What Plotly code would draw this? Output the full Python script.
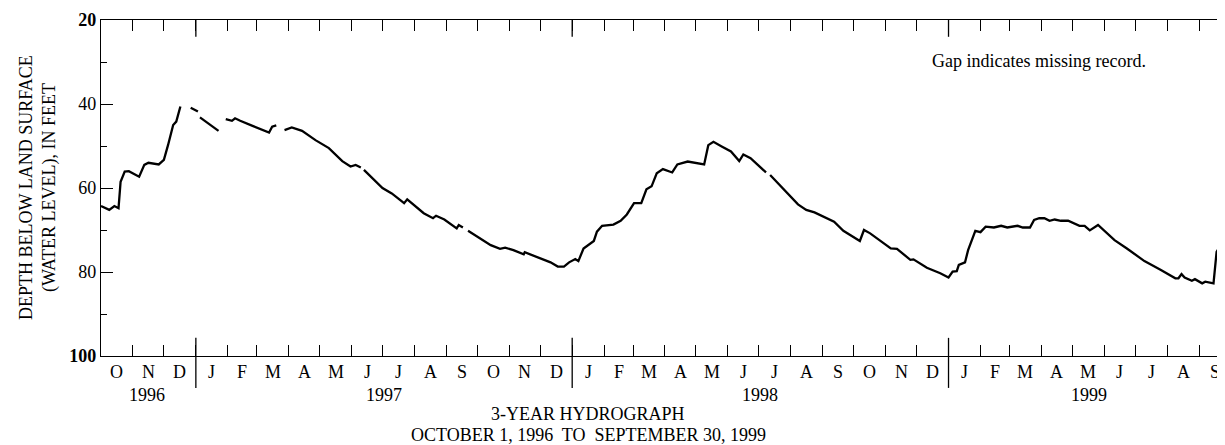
import plotly.graph_objects as go
import pandas as pd

dates = [
    "1996-10-01", "1996-10-09", "1996-10-14", "1996-10-18", "1996-10-20", "1996-10-24",
    "1996-10-28", "1996-11-07", "1996-11-12", "1996-11-16", "1996-11-26", "1996-12-01",
    "1996-12-05", "1996-12-10", "1996-12-13", "1996-12-17",
    "1996-12-22",
    "1996-12-27", "1996-12-31", "1997-01-03",
    "1997-01-04",
    "1997-01-05", "1997-01-11", "1997-01-17", "1997-01-23",
    "1997-01-27",
    "1997-01-30", "1997-02-05", "1997-02-08", "1997-02-13", "1997-02-25", "1997-03-08",
    "1997-03-13", "1997-03-16", "1997-03-20",
    "1997-03-24",
    "1997-03-28", "1997-04-04", "1997-04-14", "1997-04-27", "1997-05-10", "1997-05-23",
    "1997-05-31", "1997-06-05", "1997-06-10",
    "1997-06-12",
    "1997-06-13", "1997-07-01", "1997-07-10", "1997-07-22", "1997-07-25", "1997-08-10",
    "1997-08-19", "1997-08-22", "1997-08-30", "1997-09-11", "1997-09-13", "1997-09-17",
    "1997-09-20",
    "1997-09-22", "1997-10-14", "1997-10-23", "1997-10-28", "1997-11-05", "1997-11-15",
    "1997-11-16", "1997-12-01", "1997-12-11", "1997-12-18", "1997-12-24", "1997-12-29",
    "1998-01-04", "1998-01-07", "1998-01-12", "1998-01-22", "1998-01-25", "1998-01-30",
    "1998-02-10", "1998-02-17", "1998-02-23", "1998-03-02", "1998-03-09", "1998-03-14",
    "1998-03-19", "1998-03-24", "1998-03-30", "1998-04-08", "1998-04-13", "1998-04-23",
    "1998-05-05", "1998-05-09", "1998-05-13", "1998-05-18", "1998-05-26", "1998-06-04",
    "1998-06-12", "1998-06-16", "1998-06-23", "1998-07-08",
    "1998-07-10",
    "1998-07-12", "1998-07-28", "1998-08-08", "1998-08-16", "1998-08-24", "1998-09-12",
    "1998-09-21", "1998-10-07", "1998-10-11", "1998-10-17", "1998-10-27", "1998-11-06",
    "1998-11-12", "1998-11-25", "1998-11-28", "1998-12-11", "1998-12-24", "1999-01-01",
    "1999-01-05", "1999-01-09", "1999-01-11", "1999-01-17", "1999-01-20", "1999-01-27",
    "1999-02-01", "1999-02-06", "1999-02-14", "1999-02-21", "1999-02-27", "1999-03-09",
    "1999-03-14", "1999-03-21", "1999-03-25", "1999-03-30", "1999-04-04", "1999-04-09",
    "1999-04-14", "1999-04-20", "1999-04-27", "1999-05-08", "1999-05-13", "1999-05-18",
    "1999-05-26", "1999-06-11", "1999-06-23", "1999-07-10", "1999-07-26", "1999-08-09",
    "1999-08-12", "1999-08-15", "1999-08-18", "1999-08-25", "1999-08-28", "1999-09-04",
    "1999-09-07", "1999-09-15", "1999-09-18", "1999-09-22", "1999-09-25", "1999-09-30",
]
depth = [
    64.3, 65.2, 64.3, 64.8, 58.5, 56.1,
    56.0, 57.3, 54.5, 54.0, 54.4, 53.3,
    49.8, 45.0, 44.2, 40.6,
    None,
    40.9, 41.5, 41.8,
    None,
    43.2, 44.3, 45.4, 46.4,
    None,
    43.6, 44.0, 43.4, 44.0, 45.2, 46.2,
    46.8, 45.4, 45.1,
    None,
    46.2, 45.6, 46.4, 48.6, 50.5, 53.6,
    54.9, 54.5, 55.1,
    None,
    55.7, 60.0, 61.3, 63.6, 62.7, 66.0,
    67.2, 66.6, 67.5, 69.6, 68.8, 69.4,
    None,
    70.2, 73.6, 74.5, 74.2, 74.8, 75.8,
    75.3, 76.7, 77.7, 78.7, 78.7, 77.7,
    76.9, 77.4, 74.4, 72.6, 70.4, 69.0,
    68.7, 67.8, 66.3, 63.6, 63.6, 60.3,
    59.6, 56.5, 55.5, 56.3, 54.4, 53.7,
    54.1, 54.4, 49.8, 49.0, 50.1, 51.3,
    53.6, 52.0, 52.9, 56.3,
    None,
    56.9, 60.9, 63.9, 65.2, 65.8, 68.0,
    70.2, 72.6, 70.0, 70.8, 72.6, 74.4,
    74.5, 77.1, 77.0, 79.0, 80.3, 81.3,
    79.9, 79.8, 78.3, 77.7, 74.8, 70.2,
    70.5, 69.2, 69.4, 69.0, 69.4, 69.0,
    69.4, 69.4, 67.6, 67.2, 67.2, 67.8,
    67.5, 67.8, 67.8, 69.0, 69.0, 70.1,
    68.8, 72.4, 74.4, 77.4, 79.5, 81.5,
    81.5, 80.5, 81.3, 82.1, 81.7, 82.7,
    82.3, 82.7, 75.2, 73.6, 74.0, 74.4,
]

month_letters = list("ONDJFMAMJJASONDJFMAMJJASONDJFMAMJJAS")
year_labels = ["1996", "1997", "1998", "1999"]
year_label_dates = ["1996-11-15", "1997-07-02", "1998-07-02", "1999-05-17"]
year_breaks = ["1997-01-01", "1998-01-01", "1999-01-01"]
y_major = [20, 40, 60, 80, 100]
y_major_text = ["<b>20</b>", "40", "60", "80", "<b>100</b>"]
y_minor = [30, 50, 70, 90]

FONT = "Liberation Serif, Times New Roman, serif"
TXT = dict(family=FONT, size=18, color="black")

month_starts = pd.date_range("1996-10-01", "1999-10-01", freq="MS")
month_mids = [month_starts[i] + (month_starts[i + 1] - month_starts[i]) / 2
              for i in range(len(month_starts) - 1)]

fig = go.Figure()
fig.add_trace(go.Scatter(
    x=dates, y=depth, mode="lines", connectgaps=False,
    line=dict(color="black", width=2.3), showlegend=False, hoverinfo="skip",
))

annotations = []
for m, lab in zip(month_mids, month_letters):
    annotations.append(dict(x=m, y=0, xref="x", yref="paper", text=lab,
                            showarrow=False, yanchor="middle", yshift=-16, font=TXT))
for d, lab in zip(year_label_dates, year_labels):
    annotations.append(dict(x=d, y=0, xref="x", yref="paper", text=lab,
                            showarrow=False, yanchor="middle", yshift=-39, font=TXT))
title_x = (580 - 93) / 1129
annotations.append(dict(x=title_x, y=0, xref="paper", yref="paper",
                        text="3-YEAR HYDROGRAPH", showarrow=False,
                        yanchor="middle", yshift=-58, font=TXT))
annotations.append(dict(x=title_x, y=0, xref="paper", yref="paper",
                        text="OCTOBER 1, 1996  TO  SEPTEMBER 30, 1999", showarrow=False,
                        yanchor="middle", yshift=-79, font=TXT))
annotations.append(dict(x=(922 - 93) / 1129, y=29.8, xref="paper", yref="y",
                        text="Gap indicates missing record.", showarrow=False,
                        xanchor="left", yanchor="middle", font=TXT))
annotations.append(dict(x=(30 - 93) / 1129, y=0.5, xref="paper", yref="paper",
                        text="DEPTH BELOW LAND SURFACE<br>(WATER LEVEL), IN FEET",
                        showarrow=False, textangle=-90, xanchor="center", yanchor="middle",
                        font=TXT))

shapes = []
for yb in year_breaks:
    shapes.append(dict(type="line", xref="x", yref="paper", x0=yb, x1=yb,
                       y0=-0.095, y1=0.054, line=dict(color="black", width=1.3)))
    shapes.append(dict(type="line", xref="x", yref="paper", x0=yb, x1=yb,
                       y0=0.95, y1=1.0, line=dict(color="black", width=1.3)))

fig.update_layout(
    width=1225, height=445,
    margin=dict(l=93, r=3, t=12, b=97),
    paper_bgcolor="white", plot_bgcolor="white",
    font=TXT,
    annotations=annotations, shapes=shapes, showlegend=False,
    xaxis=dict(
        type="date", range=["1996-10-01", "1999-10-01"],
        tickvals=list(month_starts), showticklabels=False,
        ticks="inside", ticklen=11, tickwidth=1, tickcolor="black",
        showline=True, linecolor="black", linewidth=1.3, mirror="ticks",
        showgrid=False, zeroline=False,
    ),
    yaxis=dict(
        range=[100, 20], tickvals=y_major, ticktext=y_major_text,
        ticks="inside", ticklen=12, tickwidth=1, tickcolor="black",
        showline=True, linecolor="black", linewidth=1.3, mirror="ticks",
        showgrid=False, zeroline=False, tickfont=TXT,
        minor=dict(tickvals=y_minor, ticks="inside", ticklen=6, tickcolor="black", tickwidth=1),
    ),
)

fig.write_html("out.html")
